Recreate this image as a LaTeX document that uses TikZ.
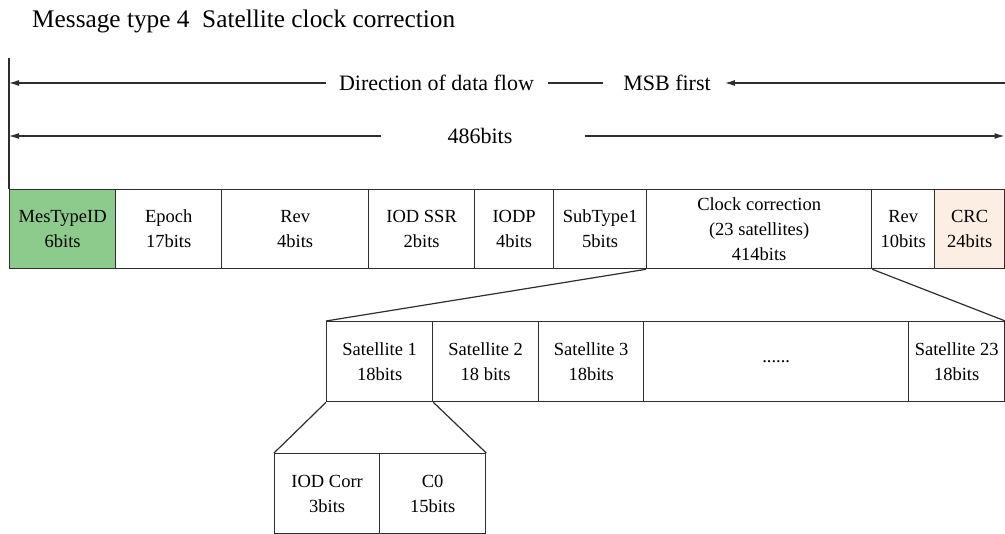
\documentclass[tikz,border=0pt]{standalone}
\usepackage{fontspec}
\setmainfont{Liberation Serif}
\usetikzlibrary{arrows.meta}
\definecolor{linegray}{HTML}{2E2E2E}
\definecolor{idgreen}{HTML}{8CCB8C}
\definecolor{crcpeach}{HTML}{FCEEE3}
\tikzset{
  fieldbox/.style={draw=linegray, line width=1.3pt, rectangle, inner sep=0pt, align=center,
    anchor=north west, font=\fontsize{18.5}{25}\selectfont},
  flowlabel/.style={inner sep=0pt, font=\fontsize{22}{26}\selectfont},
  flowline/.style={draw=linegray, line width=1.2pt},
  flowarrow/.style={flowline, -{Latex[length=10pt,width=6pt]}},
  zoomline/.style={draw=linegray, line width=1.2pt}
}
\begin{document}
\begin{tikzpicture}[x=1pt,y=-1pt]
\useasboundingbox (0,0) rectangle (1005,534);
% title
\node[anchor=base west, inner sep=0pt, font=\fontsize{25.3}{29}\selectfont] (title) at (32,28) {Message type 4\ \ Satellite clock correction};
% main row
\node[fieldbox, fill=idgreen, minimum width=106pt, minimum height=79pt] (mes) at (9,189) {MesTypeID\\6bits};
\node[fieldbox, minimum width=106pt, minimum height=79pt] (epoch) at (115,189) {Epoch\\17bits};
\node[fieldbox, minimum width=147pt, minimum height=79pt] (rev1) at (221,189) {Rev\\4bits};
\node[fieldbox, minimum width=106pt, minimum height=79pt] (iodssr) at (368,189) {IOD SSR\\2bits};
\node[fieldbox, minimum width=79pt, minimum height=79pt] (iodp) at (474,189) {IODP\\4bits};
\node[fieldbox, minimum width=93pt, minimum height=79pt] (sub) at (553,189) {SubType1\\5bits};
\node[fieldbox, minimum width=225pt, minimum height=79pt] (cc) at (646,189) {Clock correction\\(23 satellites)\\414bits};
\node[fieldbox, minimum width=63pt, minimum height=79pt] (rev2) at (871,189) {Rev\\10bits};
\node[fieldbox, fill=crcpeach, minimum width=70pt, minimum height=79pt] (crc) at (934,189) {CRC\\24bits};
% left marker line
\coordinate (vtop) at (9,58);
\draw[flowline] (vtop) -- (mes.north west);
% direction arrow
\node[flowlabel] (dir) at (436.5,83) {Direction of data flow};
\node[flowlabel] (msb) at (667,83) {MSB first};
\coordinate (dirL) at (9,83);
\coordinate (dirR) at (1005,83);
\draw[flowarrow] ([xshift=-13pt]dir.west) -- (dirL);
\draw[flowline] ([xshift=14pt]dir.east) -- ([xshift=-20pt]msb.west);
\draw[flowarrow] (dirR) -- ([xshift=14pt]msb.east);
% length arrow
\node[flowlabel] (len) at (480,136) {486bits};
\coordinate (lenL) at (9,136);
\coordinate (lenR) at (1004.5,136);
\draw[flowarrow] ([xshift=-66pt]len.west) -- (lenL);
\draw[flowarrow] ([xshift=72pt]len.east) -- (lenR);
% satellite row
\node[fieldbox, minimum width=106pt, minimum height=80pt] (s1) at (326,321) {Satellite 1\\18bits};
\node[fieldbox, minimum width=106pt, minimum height=80pt] (s2) at (432,321) {Satellite 2\\18 bits};
\node[fieldbox, minimum width=105pt, minimum height=80pt] (s3) at (538,321) {Satellite 3\\18bits};
\node[fieldbox, minimum width=265pt, minimum height=80pt] (sdots) at (643,321) {......};
\node[fieldbox, minimum width=96pt, minimum height=80pt] (s23) at (908,321) {Satellite 23\\18bits};
\draw[zoomline] (cc.south west) -- (s1.north west);
\draw[zoomline] (cc.south east) -- (s23.north east);
% sub row
\node[fieldbox, minimum width=105pt, minimum height=80pt] (iodc) at (274,453) {IOD Corr\\3bits};
\node[fieldbox, minimum width=106pt, minimum height=80pt] (c0) at (379,453) {C0\\15bits};
\draw[zoomline] (s1.south west) -- (iodc.north west);
\draw[zoomline] (s1.south east) -- (c0.north east);
\end{tikzpicture}
\end{document}
